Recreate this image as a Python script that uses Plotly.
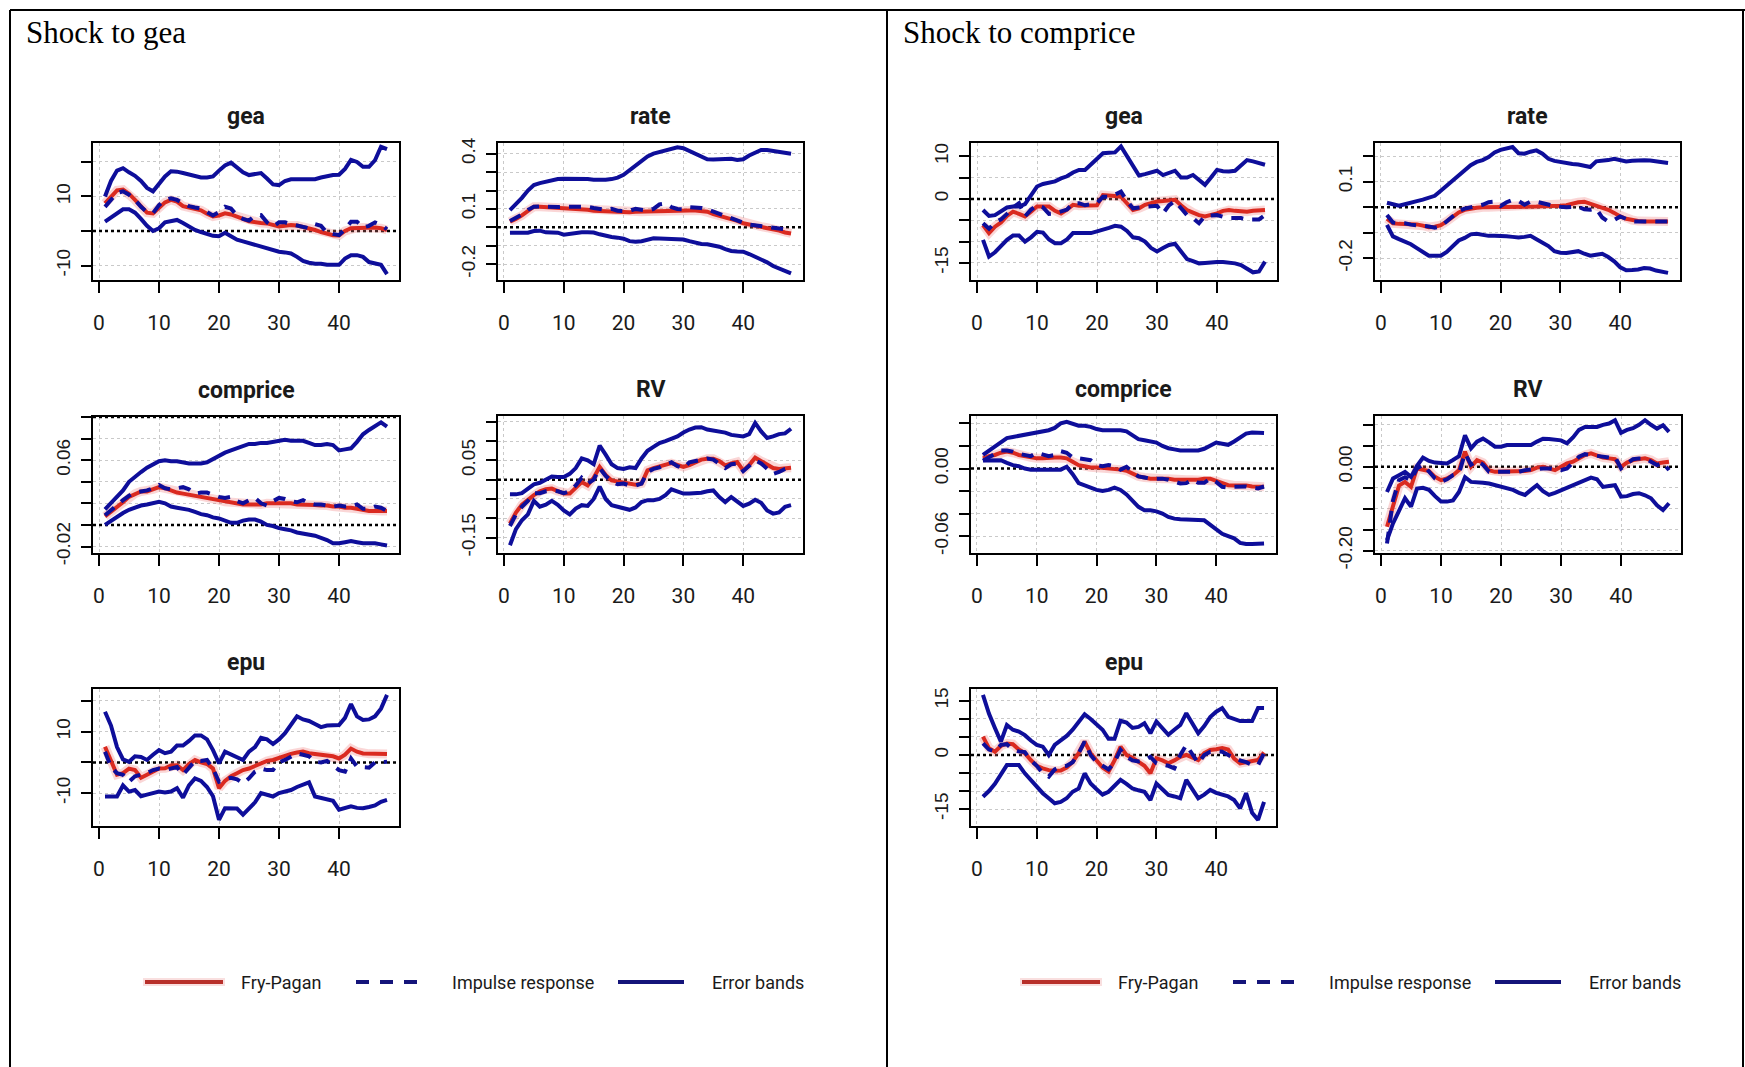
import plotly.graph_objects as go

W, H = 1745, 1067
horizon = list(range(1, 49))

# ---------------- Shock to gea ----------------
gea_gea_fp = [8.0, 10.0, 11.8, 12.0, 10.8, 9.0, 7.0, 5.3, 5.1, 6.8, 8.3, 9.0, 8.5, 7.2, 6.8, 6.5, 6.0, 5.0, 4.2, 4.5,
              5.1, 4.8, 4.3, 3.5, 2.8, 2.5, 2.3, 2.2, 1.7, 1.3, 1.5, 1.7, 1.6, 1.2, 0.8, 0.3, -0.3, -0.9, -1.2, -1.3,
              0.0, 0.8, 0.9, 1.0, 1.0, 1.0, 0.8, 0.3]
gea_gea_ir = [7.0, 9.0, 11.0, 11.5, 10.5, 9.0, 7.0, 5.5, 5.2, 7.5, 9.0, 9.5, 9.0, 8.0, 7.2, 6.8, 6.5, 5.5, 4.5, 5.5,
              7.0, 6.5, 4.5, 3.5, 3.0, 4.5, 4.6, 2.5, 1.3, 2.5, 2.5, 2.0, 1.5, 1.0, 0.8, 2.0, 1.5, -0.5, -1.0, -1.2,
              0.5, 2.7, 2.7, 1.0, 1.5, 2.5, 1.8, 0.5]
gea_gea_lo = [2.7, 4.0, 5.3, 6.3, 6.3, 5.3, 3.5, 1.5, 0.0, 0.8, 2.5, 3.0, 3.2, 2.3, 1.3, 0.3, -0.3, -0.8, -1.4, -1.5,
              -0.5, -1.5, -2.5, -3.0, -3.5, -4.0, -4.5, -5.0, -5.7, -6.0, -6.2, -6.5, -7.5, -8.7, -9.2, -9.5, -9.5,
              -9.8, -9.8, -9.8, -8.0, -7.0, -7.0, -7.5, -9.0, -9.3, -9.8, -12.5]
gea_gea_hi = [10.0, 14.5, 17.5, 18.2, 17.0, 16.0, 14.5, 12.5, 11.5, 13.5, 15.8, 17.3, 17.2, 16.8, 16.3, 15.8, 15.5,
              15.5, 15.8, 17.5, 19.0, 19.8, 18.5, 17.0, 16.2, 16.5, 16.8, 15.2, 13.5, 13.3, 14.5, 15.0, 15.0, 15.0,
              15.0, 15.0, 15.5, 16.0, 16.2, 16.3, 18.0, 20.6, 20.0, 18.6, 18.6, 20.5, 24.4, 23.7]

gea_rate_fp = [0.031, 0.045, 0.065, 0.09, 0.112, 0.112, 0.11, 0.108, 0.106, 0.105, 0.104, 0.102, 0.1, 0.095, 0.09,
               0.088, 0.086, 0.084, 0.082, 0.08, 0.082, 0.084, 0.085, 0.086, 0.088, 0.09, 0.092, 0.094, 0.094, 0.093,
               0.092, 0.091, 0.09, 0.085, 0.072, 0.063, 0.055, 0.045, 0.035, 0.022, 0.015, 0.008, 0.004, -0.002,
               -0.008, -0.018, -0.028, -0.033]
gea_rate_ir = [0.035, 0.05, 0.07, 0.095, 0.112, 0.114, 0.112, 0.11, 0.11, 0.112, 0.112, 0.11, 0.108, 0.112, 0.105,
               0.1, 0.095, 0.1, 0.09, 0.088, 0.09, 0.1, 0.095, 0.09, 0.1, 0.125, 0.13, 0.11, 0.1, 0.098, 0.11, 0.108,
               0.105, 0.098, 0.085, 0.075, 0.06, 0.048, 0.038, 0.025, 0.015, 0.01, 0.008, 0.0, -0.005, -0.005, -0.01,
               -0.024]
gea_rate_lo = [-0.029, -0.029, -0.029, -0.029, -0.02, -0.018, -0.027, -0.029, -0.029, -0.04, -0.035, -0.027, -0.027,
               -0.027, -0.028, -0.038, -0.047, -0.052, -0.056, -0.062, -0.075, -0.078, -0.075, -0.065, -0.06, -0.061,
               -0.062, -0.063, -0.064, -0.066, -0.075, -0.085, -0.09, -0.092, -0.096, -0.105, -0.118, -0.128, -0.131,
               -0.132, -0.145, -0.16, -0.172, -0.19, -0.21, -0.225, -0.238, -0.25]
gea_rate_hi = [0.094, 0.125, 0.16, 0.2, 0.23, 0.24, 0.248, 0.255, 0.262, 0.264, 0.264, 0.264, 0.264, 0.262, 0.258,
               0.256, 0.258, 0.262, 0.27, 0.285, 0.31, 0.34, 0.365, 0.385, 0.4, 0.41, 0.415, 0.425, 0.435, 0.43,
               0.415, 0.4, 0.385, 0.37, 0.368, 0.368, 0.372, 0.372, 0.366, 0.37, 0.39, 0.405, 0.42, 0.42, 0.415,
               0.405, 0.4, 0.4]

gea_comprice_fp = [0.008, 0.012, 0.016, 0.021, 0.026, 0.029, 0.031, 0.031, 0.033, 0.035, 0.034, 0.032, 0.03, 0.029,
                   0.028, 0.027, 0.026, 0.025, 0.024, 0.023, 0.0215, 0.021, 0.02, 0.019, 0.019, 0.019, 0.019, 0.02,
                   0.02, 0.02, 0.02, 0.02, 0.019, 0.019, 0.019, 0.0185, 0.018, 0.018, 0.017, 0.017, 0.016, 0.016,
                   0.015, 0.014, 0.013, 0.013, 0.013, 0.013]
gea_comprice_ir = [0.009, 0.014, 0.018, 0.023, 0.027, 0.03, 0.031, 0.032, 0.034, 0.037, 0.034, 0.033, 0.034, 0.035,
                   0.033, 0.029, 0.03, 0.03, 0.028, 0.026, 0.025, 0.026, 0.022, 0.02, 0.023, 0.025, 0.02, 0.018,
                   0.022, 0.025, 0.024, 0.022, 0.021, 0.023, 0.02, 0.019, 0.019, 0.018, 0.017, 0.018, 0.017, 0.017,
                   0.019, 0.015, 0.015, 0.017, 0.016, 0.013]
gea_comprice_lo = [0.0, 0.004, 0.008, 0.011, 0.014, 0.016, 0.018, 0.019, 0.02, 0.0215, 0.02, 0.017, 0.016, 0.015,
                   0.014, 0.012, 0.01, 0.009, 0.007, 0.006, 0.004, 0.002, 0.002, 0.004, 0.005, 0.005, 0.003, 0.0,
                   -0.001, -0.003, -0.004, -0.005, -0.007, -0.008, -0.009, -0.01, -0.012, -0.014, -0.017, -0.017,
                   -0.016, -0.015, -0.016, -0.017, -0.017, -0.017, -0.018, -0.019]
gea_comprice_hi = [0.0145, 0.02, 0.026, 0.032, 0.04, 0.045, 0.049, 0.053, 0.056, 0.059, 0.06, 0.059, 0.059, 0.058,
                   0.057, 0.057, 0.057, 0.058, 0.061, 0.065, 0.067, 0.069, 0.071, 0.073, 0.075, 0.075, 0.076, 0.076,
                   0.077, 0.078, 0.079, 0.078, 0.078, 0.078, 0.076, 0.074, 0.074, 0.075, 0.074, 0.069, 0.07, 0.071,
                   0.077, 0.084, 0.088, 0.091, 0.095, 0.091]

gea_rv_fp = [-0.114, -0.085, -0.065, -0.052, -0.04, -0.03, -0.025, -0.023, -0.03, -0.036, -0.036, -0.02, -0.006,
             -0.015, 0.005, 0.033, 0.012, -0.002, -0.005, -0.008, -0.01, -0.013, -0.01, 0.024, 0.03, 0.035, 0.04,
             0.043, 0.038, 0.033, 0.038, 0.045, 0.052, 0.054, 0.054, 0.048, 0.037, 0.042, 0.046, 0.024, 0.038,
             0.057, 0.048, 0.04, 0.03, 0.028, 0.03, 0.031]
gea_rv_ir = [-0.12, -0.09, -0.07, -0.055, -0.035, -0.035, -0.03, -0.028, -0.03, -0.035, -0.03, -0.015, 0.005, -0.01,
             0.0, 0.03, 0.01, -0.005, -0.012, -0.01, -0.015, -0.015, -0.01, 0.02, 0.028, 0.032, 0.04, 0.045, 0.035,
             0.03, 0.045, 0.048, 0.05, 0.055, 0.052, 0.04, 0.03, 0.04, 0.042, 0.022, 0.035, 0.05, 0.042, 0.03, 0.015,
             0.02, 0.028, 0.03]
gea_rv_lo = [-0.17, -0.128, -0.105, -0.09, -0.055, -0.07, -0.065, -0.055, -0.065, -0.08, -0.09, -0.075, -0.066,
             -0.068, -0.05, -0.018, -0.05, -0.066, -0.07, -0.075, -0.078, -0.072, -0.058, -0.053, -0.053, -0.05,
             -0.04, -0.025, -0.03, -0.036, -0.036, -0.036, -0.034, -0.03, -0.028, -0.045, -0.058, -0.045, -0.055,
             -0.068, -0.062, -0.052, -0.06, -0.08, -0.088, -0.085, -0.07, -0.066]
gea_rv_hi = [-0.038, -0.038, -0.035, -0.025, -0.012, -0.008, 0.0, 0.008, 0.007, 0.007, 0.015, 0.03, 0.055, 0.05,
             0.04, 0.088, 0.065, 0.04, 0.03, 0.028, 0.032, 0.03, 0.055, 0.075, 0.085, 0.095, 0.1, 0.107, 0.112, 0.122,
             0.13, 0.135, 0.136, 0.13, 0.128, 0.125, 0.122, 0.116, 0.115, 0.112, 0.118, 0.147, 0.125, 0.108, 0.112,
             0.118, 0.12, 0.132]

gea_epu_fp = [5.1, 0.2, -4.0, -3.5, -2.0, -2.5, -5.0, -4.0, -3.0, -2.0, -1.9, -1.0, -0.9, -2.5, -0.5, 0.8, 0.0, -0.5,
              -2.0, -8.4, -6.0, -4.5, -3.5, -2.5, -2.0, -1.1, -0.5, 0.5, 0.8, 1.5, 2.0, 2.8, 3.2, 3.5, 3.0, 2.8, 2.6,
              2.4, 2.0, 1.3, 2.5, 4.5, 3.5, 2.9, 2.8, 2.8, 2.7, 2.7]
gea_epu_ir = [3.5, -1.5, -3.5, -4.0, -6.3, -4.5, -4.0, -3.5, -2.5, -2.0, -2.5, -2.0, -1.5, -4.0, -1.5, 0.5, 0.5, 0.8,
              -2.0, -6.3, -5.5, -5.0, -5.5, -6.8, -5.2, -3.0, -2.0, -2.5, -2.5, 0.0, 0.8, 2.0, 2.9, 2.5, 2.0, 0.2, 0.0,
              0.5, -1.0, -2.5, -3.0, 1.3, -1.4, -1.7, -1.7, 0.0, 0.2, 0.2]
gea_epu_lo = [-11.1, -11.1, -11.1, -7.5, -9.5, -9.0, -11.0, -10.5, -10.0, -9.5, -9.8, -9.5, -8.4, -11.5, -7.5, -5.2,
              -6.0, -8.0, -11.0, -18.7, -14.9, -14.9, -15.0, -17.0, -15.0, -13.0, -10.0, -10.5, -11.1, -10.0, -9.5,
              -9.0, -8.0, -7.3, -6.5, -11.1, -11.5, -12.0, -12.5, -15.4, -15.0, -14.3, -14.8, -14.9, -14.5, -14.0,
              -12.8, -12.2]
gea_epu_hi = [16.5, 12.0, 5.0, 1.0, 0.2, 2.0, 1.8, 0.8, 2.5, 4.0, 3.0, 3.5, 5.5, 5.5, 7.0, 8.8, 8.8, 7.5, 4.0, -0.3,
              3.5, 2.5, 1.8, 0.8, 3.5, 5.0, 8.0, 7.5, 6.0, 7.5, 9.5, 12.5, 15.0, 14.0, 13.5, 12.5, 11.5, 12.0, 12.0,
              12.2, 14.5, 19.0, 15.0, 13.8, 14.0, 15.0, 17.5, 22.0]

# ---------------- Shock to comprice ----------------
cp_gea_fp = [-6.1, -8.0, -6.5, -5.5, -4.0, -3.0, -3.5, -4.1, -3.0, -1.8, -1.8, -1.8, -2.8, -3.4, -2.5, -1.4, -1.6,
             -1.6, -1.6, -1.5, 0.9, 0.9, 0.7, 0.5, -1.0, -2.6, -2.2, -1.4, -1.0, -0.6, -0.5, -0.3, -0.2, -1.5, -2.6,
             -3.2, -3.8, -4.1, -3.8, -3.4, -2.8, -2.6, -2.8, -3.0, -3.0, -2.8, -2.6, -2.6]
cp_gea_ir = [-5.7, -7.0, -5.5, -4.8, -3.5, -2.0, -1.0, -4.1, -2.5, -1.5, -2.0, -3.5, -3.4, -3.0, -2.5, -1.0, -1.0,
             -1.5, -1.2, -1.0, 0.5, 0.5, 1.0, 1.7, -0.5, -2.2, -2.0, -1.8, -1.6, -1.6, -3.4, -1.5, -0.5, -2.0, -3.8,
             -4.5, -5.7, -4.0, -3.8, -3.8, -4.2, -4.5, -4.5, -4.5, -4.8, -4.8, -4.8, -3.8]
cp_gea_lo = [-9.6, -13.5, -12.5, -11.0, -9.6, -8.6, -8.6, -10.0, -9.0, -7.7, -7.9, -9.5, -10.4, -10.4, -9.5, -8.0,
             -8.0, -8.0, -8.0, -7.6, -7.3, -6.8, -6.3, -6.5, -7.5, -9.0, -9.2, -10.0, -11.5, -12.3, -11.5, -10.8,
             -10.5, -12.5, -14.1, -14.6, -15.1, -15.0, -14.8, -14.8, -14.8, -14.9, -15.1, -15.5, -16.3, -17.2,
             -17.0, -14.7]
cp_gea_hi = [-2.6, -4.0, -3.8, -3.0, -2.0, -1.8, -1.8, -1.2, 1.0, 2.9, 3.5, 3.8, 4.1, 4.8, 5.3, 6.2, 6.8, 6.8, 8.2,
             9.5, 10.7, 10.8, 10.9, 12.3, 10.0, 7.5, 5.5, 5.8, 6.3, 6.6, 5.6, 6.2, 6.6, 5.0, 5.0, 5.6, 4.5, 3.3, 5.0,
             6.8, 6.5, 6.4, 6.6, 7.8, 9.1, 8.8, 8.5, 8.0]

cp_rate_fp = [-0.045, -0.063, -0.065, -0.065, -0.065, -0.067, -0.072, -0.078, -0.076, -0.07, -0.055, -0.035, -0.02,
              -0.01, -0.004, -0.002, 0.0, 0.0, 0.001, 0.002, 0.003, 0.003, 0.003, 0.003, 0.003, 0.003, 0.004, 0.004,
              0.005, 0.006, 0.008, 0.015, 0.02, 0.022, 0.015, 0.005, -0.003, -0.01, -0.022, -0.036, -0.045, -0.05,
              -0.054, -0.056, -0.056, -0.056, -0.056, -0.056]
cp_rate_ir = [-0.03, -0.06, -0.062, -0.063, -0.068, -0.07, -0.072, -0.075, -0.08, -0.075, -0.055, -0.035, -0.015,
              -0.005, 0.0, 0.003, 0.01, 0.02, 0.022, 0.005, 0.02, 0.029, 0.025, 0.01, 0.022, 0.022, 0.015, 0.008,
              0.005, 0.002, 0.0, 0.002, 0.002, -0.008, -0.01, -0.005, -0.04, -0.056, -0.05, -0.036, -0.045, -0.055,
              -0.056, -0.056, -0.056, -0.056, -0.056, -0.056]
cp_rate_lo = [-0.069, -0.114, -0.125, -0.134, -0.145, -0.16, -0.175, -0.19, -0.19, -0.19, -0.175, -0.15, -0.13,
              -0.12, -0.106, -0.104, -0.11, -0.112, -0.112, -0.112, -0.114, -0.116, -0.118, -0.116, -0.112, -0.125,
              -0.14, -0.152, -0.172, -0.178, -0.179, -0.176, -0.172, -0.182, -0.19, -0.186, -0.182, -0.195, -0.212,
              -0.235, -0.247, -0.246, -0.244, -0.238, -0.24, -0.248, -0.252, -0.257]
cp_rate_hi = [0.018, 0.012, 0.006, 0.012, 0.02, 0.024, 0.03, 0.036, 0.045, 0.065, 0.085, 0.105, 0.125, 0.145, 0.165,
              0.178, 0.185, 0.197, 0.215, 0.225, 0.23, 0.236, 0.212, 0.21, 0.218, 0.223, 0.21, 0.19, 0.182, 0.178,
              0.172, 0.17, 0.168, 0.162, 0.158, 0.18, 0.182, 0.185, 0.19, 0.186, 0.18, 0.182, 0.184, 0.184, 0.183,
              0.18, 0.175, 0.174]

cp_comprice_fp = [0.009, 0.011, 0.012, 0.014, 0.015, 0.014, 0.012, 0.011, 0.01, 0.009, 0.009, 0.0097, 0.0097, 0.0097,
                  0.009, 0.006, 0.003, 0.002, 0.001, 0.001, 0.0005, 0.0, 0.0, -0.001, -0.002, -0.005, -0.007, -0.008,
                  -0.009, -0.009, -0.009, -0.009, -0.01, -0.01, -0.01, -0.01, -0.01, -0.009, -0.009, -0.011, -0.013,
                  -0.0148, -0.015, -0.015, -0.015, -0.016, -0.016, -0.0162]
cp_comprice_ir = [0.007, 0.01, 0.012, 0.016, 0.016, 0.015, 0.013, 0.012, 0.011, 0.0139, 0.012, 0.011, 0.012, 0.0154,
                  0.014, 0.0097, 0.009, 0.0085, 0.0074, 0.003, 0.002, 0.003, 0.002, -0.001, 0.0015, -0.003, -0.007,
                  -0.008, -0.009, -0.009, -0.009, -0.01, -0.012, -0.0133, -0.013, -0.01, -0.0127, -0.0127, -0.009,
                  -0.012, -0.0162, -0.017, -0.0162, -0.016, -0.016, -0.017, -0.0177, -0.016]
cp_comprice_lo = [0.007, 0.007, 0.0074, 0.0074, 0.005, 0.003, 0.002, 0.0, -0.001, -0.001, -0.001, -0.001, -0.001,
                  -0.001, 0.0015, -0.005, -0.013, -0.015, -0.0177, -0.019, -0.02, -0.019, -0.017, -0.019, -0.023,
                  -0.028, -0.034, -0.037, -0.037, -0.038, -0.04, -0.043, -0.0445, -0.045, -0.045, -0.0455, -0.0458,
                  -0.046, -0.05, -0.055, -0.058, -0.06, -0.062, -0.066, -0.067, -0.067, -0.067, -0.0665]
cp_comprice_hi = [0.012, 0.016, 0.019, 0.024, 0.027, 0.028, 0.029, 0.03, 0.031, 0.0325, 0.033, 0.034, 0.036, 0.04,
                  0.0414, 0.04, 0.038, 0.038, 0.037, 0.035, 0.034, 0.034, 0.034, 0.034, 0.033, 0.029, 0.026, 0.025,
                  0.024, 0.023, 0.02, 0.018, 0.017, 0.016, 0.016, 0.016, 0.016, 0.0175, 0.02, 0.023, 0.022, 0.021,
                  0.024, 0.028, 0.031, 0.032, 0.032, 0.0316]

cp_rv_fp = [-0.143, -0.09, -0.045, -0.036, -0.048, -0.004, -0.006, -0.01, -0.024, -0.032, -0.028, -0.02, -0.008,
            0.036, 0.0, 0.016, 0.01, -0.008, -0.012, -0.012, -0.012, -0.012, -0.012, -0.01, -0.008, -0.002, 0.0,
            -0.004, -0.008, 0.0, 0.008, 0.012, 0.02, 0.028, 0.032, 0.026, 0.022, 0.02, 0.018, 0.0, 0.01, 0.016,
            0.018, 0.02, 0.016, 0.008, 0.01, 0.012]
cp_rv_ir = [-0.183, -0.08, -0.032, -0.025, -0.032, -0.004, 0.005, -0.012, -0.028, -0.036, -0.03, -0.02, -0.016,
            0.032, 0.005, 0.014, 0.005, -0.012, -0.012, -0.012, -0.01, -0.012, -0.012, -0.008, -0.006, -0.004,
            -0.004, -0.004, -0.006, -0.008, -0.004, 0.01, 0.024, 0.03, 0.028, 0.024, 0.024, 0.022, 0.024, -0.004,
            0.008, 0.018, 0.02, 0.02, 0.012, 0.004, 0.01, -0.008]
cp_rv_lo = [-0.175, -0.135, -0.105, -0.075, -0.095, -0.052, -0.05, -0.055, -0.07, -0.083, -0.083, -0.08, -0.06,
            -0.025, -0.036, -0.036, -0.038, -0.04, -0.044, -0.046, -0.05, -0.055, -0.062, -0.067, -0.055, -0.044,
            -0.058, -0.067, -0.062, -0.056, -0.05, -0.046, -0.04, -0.032, -0.026, -0.03, -0.048, -0.046, -0.044,
            -0.071, -0.07, -0.065, -0.063, -0.068, -0.075, -0.092, -0.103, -0.087]
cp_rv_hi = [-0.06, -0.028, -0.02, -0.012, -0.024, 0.002, 0.022, 0.014, 0.01, 0.008, 0.008, 0.016, 0.025, 0.075, 0.044,
            0.06, 0.067, 0.058, 0.048, 0.048, 0.052, 0.052, 0.052, 0.052, 0.052, 0.06, 0.067, 0.066, 0.064, 0.063,
            0.056, 0.07, 0.088, 0.095, 0.095, 0.095, 0.1, 0.103, 0.111, 0.081, 0.088, 0.092, 0.1, 0.111, 0.1, 0.091,
            0.099, 0.083]

cp_epu_fp = [5.1, 1.9, 0.9, 2.5, 3.2, 3.0, 1.5, 0.5, -1.4, -3.0, -3.7, -4.2, -4.4, -4.3, -3.5, -1.9, 0.5, 3.7, 0.5,
             -1.5, -3.5, -4.6, -1.5, 2.3, 0.0, -0.8, -1.9, -3.0, -5.1, -0.9, -1.5, -2.3, -1.5, -0.5, 0.0, -0.8, -1.4,
             0.5, 1.4, 1.6, 1.9, 1.5, -1.0, -2.3, -2.0, -1.8, -1.4, 0.7]
cp_epu_ir = [3.2, 1.5, 1.0, 2.8, 3.0, 1.5, 1.0, 0.8, -1.5, -3.0, -5.1, -6.0, -4.0, -3.2, -3.0, -2.0, 0.5, 3.7, 0.0,
             -2.0, -3.0, -4.0, -2.0, 1.4, -0.5, -1.5, -1.8, -1.5, -0.5, -2.3, -2.7, -3.0, -3.7, 0.0, 2.8, 0.0, -2.3,
             0.0, 0.9, 1.0, 0.9, 0.0, -0.9, -1.5, -2.0, -2.8, -2.8, 0.5]
cp_epu_lo = [-11.6, -10.0, -8.0, -5.5, -2.8, -2.8, -2.8, -5.1, -7.0, -8.8, -10.6, -12.0, -13.4, -13.0, -12.0, -10.2,
             -9.3, -5.1, -7.9, -9.5, -11.0, -10.2, -8.5, -6.9, -8.0, -9.3, -9.8, -10.2, -12.5, -7.9, -9.5, -11.1,
             -11.5, -12.0, -6.9, -9.5, -12.0, -11.0, -9.7, -10.5, -11.0, -11.5, -12.5, -14.8, -10.6, -16.0, -18.0,
             -13.0]
cp_epu_hi = [16.7, 11.5, 7.5, 3.7, 8.3, 7.0, 6.5, 5.5, 4.0, 2.8, 2.3, 0.0, 2.8, 4.0, 5.3, 7.0, 9.0, 11.3, 10.0, 8.5,
             7.0, 4.5, 4.5, 9.5, 9.0, 7.5, 7.8, 8.8, 6.0, 9.3, 7.5, 5.6, 7.0, 8.3, 11.6, 9.0, 6.0, 8.0, 10.5, 12.0,
             13.0, 10.6, 10.0, 9.4, 9.4, 9.4, 13.0, 13.0]

# ---------------- panel definitions ----------------
# box = (left, top, right, bottom) in page pixels
panels = [
    dict(title="gea", box=(93, 143, 399, 280), yr=(-14.2, 25.5),
         yt=[-10, 0, 10, 20], yl=["-10", "", "10", ""],
         series=(gea_gea_fp, gea_gea_ir, gea_gea_lo, gea_gea_hi)),
    dict(title="rate", box=(498, 143, 803, 280), yr=(-0.286, 0.458),
         yt=[-0.2, -0.1, 0.0, 0.1, 0.2, 0.3, 0.4], yl=["-0.2", "", "", "0.1", "", "", "0.4"],
         series=(gea_rate_fp, gea_rate_ir, gea_rate_lo, gea_rate_hi)),
    dict(title="comprice", box=(93, 417, 399, 553), yr=(-0.026, 0.100),
         yt=[-0.02, 0.0, 0.02, 0.04, 0.06, 0.08, 0.10], yl=["-0.02", "", "", "", "0.06", "", ""],
         series=(gea_comprice_fp, gea_comprice_ir, gea_comprice_lo, gea_comprice_hi), top_ref=0.10),
    dict(title="RV", box=(498, 416, 803, 553), yr=(-0.19, 0.165),
         yt=[-0.15, -0.10, -0.05, 0.0, 0.05, 0.10, 0.15], yl=["-0.15", "", "", "", "0.05", "", ""],
         series=(gea_rv_fp, gea_rv_ir, gea_rv_lo, gea_rv_hi)),
    dict(title="epu", box=(93, 689, 399, 826), yr=(-20.7, 23.9),
         yt=[-10, 0, 10, 20], yl=["-10", "", "10", ""],
         series=(gea_epu_fp, gea_epu_ir, gea_epu_lo, gea_epu_hi)),
    dict(title="gea", box=(971, 143, 1277, 280), yr=(-19.0, 13.1),
         yt=[-15, -10, -5, 0, 5, 10], yl=["-15", "", "", "0", "", "10"],
         series=(cp_gea_fp, cp_gea_ir, cp_gea_lo, cp_gea_hi)),
    dict(title="rate", box=(1375, 143, 1680, 280), yr=(-0.285, 0.252),
         yt=[-0.2, -0.1, 0.0, 0.1, 0.2], yl=["-0.2", "", "", "0.1", ""],
         series=(cp_rate_fp, cp_rate_ir, cp_rate_lo, cp_rate_hi)),
    dict(title="comprice", box=(971, 416, 1276, 553), yr=(-0.075, 0.0466),
         yt=[-0.06, -0.04, -0.02, 0.0, 0.02, 0.04], yl=["-0.06", "", "", "0.00", "", ""],
         series=(cp_comprice_fp, cp_comprice_ir, cp_comprice_lo, cp_comprice_hi)),
    dict(title="RV", box=(1375, 416, 1681, 553), yr=(-0.2055, 0.121),
         yt=[-0.20, -0.15, -0.10, -0.05, 0.0, 0.05, 0.10], yl=["-0.20", "", "", "", "0.00", "", ""],
         series=(cp_rv_fp, cp_rv_ir, cp_rv_lo, cp_rv_hi)),
    dict(title="epu", box=(971, 689, 1276, 826), yr=(-19.7, 18.3),
         yt=[-15, -10, -5, 0, 5, 10, 15], yl=["-15", "", "", "0", "", "", "15"],
         series=(cp_epu_fp, cp_epu_ir, cp_epu_lo, cp_epu_hi)),
]

XR = [-1.0, 50.0]
RED = "#DA2A20"
HALO = "rgba(240,120,120,0.30)"
BLUE = "#0E0E9A"
NARROW = "Roboto, Liberation Sans, sans-serif"
SANS = "Liberation Sans, Arial, sans-serif"
SERIF = "Liberation Serif, Times New Roman, serif"


def px_x(x):
    return x / W


def px_y(y):
    return 1 - y / H


fig = go.Figure()
axes = {}
shapes = []
annotations = []

for i, p in enumerate(panels, start=1):
    sx = "" if i == 1 else str(i)
    xa, ya = "x" + sx, "y" + sx
    x0, y0, x1, y1 = p["box"]
    fp, ir, lo, hi = p["series"]

    # dotted zero reference line, drawn under the curves
    fig.add_trace(go.Scatter(x=XR, y=[0, 0], xaxis=xa, yaxis=ya, mode="lines", hoverinfo="skip",
                             showlegend=False, line=dict(color="black", width=2.5, dash="dot")))

    common = dict(xaxis=xa, yaxis=ya, mode="lines", hoverinfo="skip", showlegend=False)
    fig.add_trace(go.Scatter(x=horizon, y=fp, line=dict(color=HALO, width=9), **common))
    fig.add_trace(go.Scatter(x=horizon, y=fp, line=dict(color=RED, width=4), **common))
    fig.add_trace(go.Scatter(x=horizon, y=ir, line=dict(color=BLUE, width=4, dash="12px,9px"), **common))
    fig.add_trace(go.Scatter(x=horizon, y=lo, line=dict(color=BLUE, width=4), **common))
    fig.add_trace(go.Scatter(x=horizon, y=hi, line=dict(color=BLUE, width=4), **common))

    frame = dict(showline=True, mirror=True, linecolor="black", linewidth=2,
                 ticks="outside", tickcolor="black", tickwidth=2,
                 showgrid=True, gridcolor="#c9c9c9", gridwidth=1.2, griddash="dot",
                 zeroline=False, fixedrange=True, automargin=False)
    axes["xaxis" + sx] = dict(domain=[px_x(x0), px_x(x1)], anchor=ya, range=XR,
                              tickvals=[0, 10, 20, 30, 40], ticklen=11, ticklabelstandoff=12,
                              tickfont=dict(family=NARROW, size=21, color="#1a1a1a"), **frame)
    axes["yaxis" + sx] = dict(domain=[px_y(y1), px_y(y0)], anchor=xa, range=list(p["yr"]),
                              tickvals=p["yt"], ticktext=p["yl"], tickangle=-90, ticklen=10,
                              ticklabelstandoff=3,
                              tickfont=dict(family=SANS, size=19, color="#1a1a1a"), **frame)

    if "top_ref" in p:
        # the upper edge of this panel carries a dotted reference line instead of a solid border
        for col, wd, dash in (("white", 3, "solid"), ("black", 2.5, "dot")):
            shapes.append(dict(type="line", xref=xa, yref=ya, x0=XR[0], x1=XR[1],
                               y0=p["top_ref"], y1=p["top_ref"],
                               line=dict(color=col, width=wd, dash=dash), layer="above"))

    annotations.append(dict(text=f"<b>{p['title']}</b>", xref="paper", yref="paper",
                            x=px_x((x0 + x1) / 2), y=px_y(y0 - 27), showarrow=False,
                            xanchor="center", yanchor="middle",
                            font=dict(family=NARROW, size=23, color="#1a1a1a")))

# table frame around the two halves
for (ax0, ay0, ax1, ay1) in [(10, 10, W, 10), (10, 10, 10, H), (887, 10, 887, H), (1743, 10, 1743, H)]:
    shapes.append(dict(type="line", xref="paper", yref="paper",
                       x0=px_x(ax0), y0=px_y(ay0), x1=px_x(ax1), y1=px_y(ay1),
                       line=dict(color="black", width=2), layer="above"))

# half headers
for text, hx in [("Shock to gea", 24), ("Shock to comprice", 901)]:
    annotations.append(dict(text=text, xref="paper", yref="paper", x=px_x(hx), y=px_y(32),
                            showarrow=False, xanchor="left", yanchor="middle",
                            font=dict(family=SERIF, size=31, color="black")))

# legends under each half
legend_y = 982
legend_items = [
    ("Fry-Pagan", dict(color="#B8302A", width=4), 0, 78, 94),
    ("Impulse response", dict(color="#14147A", width=4, dash="13px,11px"), 211, 276, 305),
    ("Error bands", dict(color="#14147A", width=4), 473, 539, 565),
]
for base in (145, 1022):
    for label, ln, lx0, lx1, tx in legend_items:
        if label == "Fry-Pagan":
            shapes.append(dict(type="line", xref="paper", yref="paper", layer="above",
                               x0=px_x(base + lx0 - 2), x1=px_x(base + lx1 + 2),
                               y0=px_y(legend_y), y1=px_y(legend_y),
                               line=dict(color="rgba(235,150,150,0.30)", width=8)))
        shapes.append(dict(type="line", xref="paper", yref="paper", layer="above",
                           x0=px_x(base + lx0), x1=px_x(base + lx1),
                           y0=px_y(legend_y), y1=px_y(legend_y), line=ln))
        annotations.append(dict(text=label, xref="paper", yref="paper",
                                x=px_x(base + tx), y=px_y(legend_y), showarrow=False,
                                xanchor="left", yanchor="middle",
                                font=dict(family=NARROW, size=18, color="#1a1a1a")))

fig.update_layout(width=W, height=H, autosize=False,
                  margin=dict(l=0, r=0, t=0, b=0, autoexpand=False),
                  paper_bgcolor="white", plot_bgcolor="white",
                  shapes=shapes, annotations=annotations, **axes)

fig.write_html("out.html")
